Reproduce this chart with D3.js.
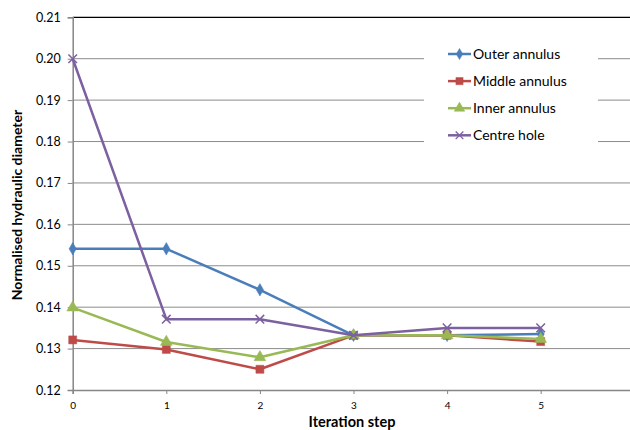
<!DOCTYPE html>
<html><head><meta charset="utf-8">
<script src="https://cdn.jsdelivr.net/npm/d3@7"></script>
<style>body{margin:0;background:#fff}svg{display:block}text{font-family:Lato,"Open Sans",sans-serif}</style>
</head><body><svg id="c" width="630" height="430"></svg>
<script>
const steps = [0,1,2,3,4,5];
const outerAnnulus = [0.1541,0.1541,0.1442,0.1332,0.1332,0.1335];
const middleAnnulus = [0.1321,0.1298,0.1250,0.1332,0.1332,0.1317];
const innerAnnulus = [0.1399,0.1316,0.1279,0.1332,0.1332,0.1323];
const centreHole = [0.2000,0.1371,0.1371,0.1332,0.1350,0.1350];
const yTicks = [0.12,0.13,0.14,0.15,0.16,0.17,0.18,0.19,0.20,0.21];
const seriesNames = ["Outer annulus","Middle annulus","Inner annulus","Centre hole"];
const seriesColors = ["#4A7EBB","#BE4B48","#98B954","#7D60A0"];
const seriesSymbols = ["diamond","square","triangle","cross"];
const seriesValues = [outerAnnulus, middleAnnulus, innerAnnulus, centreHole];

const svg = d3.select("#c");
const x = d3.scaleLinear().domain([0,6]).range([72.7, 634.3]);
const y = d3.scaleLinear().domain([0.12,0.21]).range([390, 17.3]);
const right = 630;

// gridlines
svg.append("g").selectAll("line").data(yTicks.slice(1)).join("line")
  .attr("x1", x(0)).attr("x2", right)
  .attr("y1", d=>y(d)).attr("y2", d=>y(d))
  .attr("stroke", d=> d===0.21 ? "#000" : "#8c8c8c").attr("stroke-width", d=> d===0.21 ? 1.2 : 1);

// y axis
const ya = svg.append("g").attr("transform",`translate(${x(0)},0)`)
  .call(d3.axisLeft(y).tickValues(yTicks).tickFormat(d3.format(".2f")).tickSize(5).tickPadding(7));
ya.select(".domain").attr("stroke","#868686").attr("stroke-width",1.5);
ya.selectAll(".tick line").attr("stroke","#868686");
ya.selectAll("text").attr("font-size","12.5px").attr("fill","#000").style("font-family","Lato, sans-serif");

// x axis
const xa = svg.append("g").attr("transform",`translate(0,${y(0.12)})`)
  .call(d3.axisBottom(x).tickValues(steps).tickFormat(d3.format("d")).tickSize(4).tickPadding(8));
xa.select(".domain").attr("stroke","#868686").attr("stroke-width",1.5);
xa.selectAll(".tick line").attr("stroke","#868686");
xa.selectAll("text").attr("font-size","10px").attr("fill","#000");

// axis titles
svg.append("text").attr("x", 352).attr("y", 427).attr("text-anchor","middle")
  .attr("font-size","14.5px").attr("font-weight","bold").text("Iteration step");
svg.append("text").attr("transform","translate(22,205) rotate(-90)").attr("text-anchor","middle")
  .attr("font-size","14px").attr("font-weight","bold").text("Normalised hydraulic diameter");

const symMap = {diamond:d3.symbolDiamond, square:d3.symbolSquare, triangle:d3.symbolTriangle, cross:d3.symbolX};
const symSize = {diamond:45, square:64, triangle:60, cross:50};
const line = d3.line().x((d,i)=>x(steps[i])).y(d=>y(d));

seriesValues.forEach((vals,k)=>{
  const g = svg.append("g");
  g.append("path").datum(vals).attr("d", line).attr("fill","none")
    .attr("stroke", seriesColors[k]).attr("stroke-width",2.5).attr("stroke-linejoin","round");
  const s = seriesSymbols[k];
  g.selectAll("path.m").data(vals).join("path").attr("class","m")
    .attr("transform",(d,i)=>`translate(${x(steps[i])},${y(d)})`)
    .attr("d", d3.symbol().type(symMap[s]).size(symSize[s]))
    .attr("fill", s==="cross" ? "none" : seriesColors[k])
    .attr("stroke", seriesColors[k]).attr("stroke-width", s==="cross"?1.5:0.5);
});

// legend
const lg = svg.append("g");
lg.append("rect").attr("x",424).attr("y",38).attr("width",174).attr("height",112).attr("fill","#fff");
seriesNames.forEach((n,k)=>{
  const yy = 54 + k*27.1;
  lg.append("line").attr("x1",448).attr("x2",471).attr("y1",yy).attr("y2",yy)
    .attr("stroke",seriesColors[k]).attr("stroke-width",2.5);
  const s = seriesSymbols[k];
  lg.append("path").attr("transform",`translate(459.5,${yy})`)
    .attr("d", d3.symbol().type(symMap[s]).size(symSize[s]*0.8))
    .attr("fill", s==="cross" ? "none" : seriesColors[k])
    .attr("stroke", seriesColors[k]).attr("stroke-width", s==="cross"?1.3:0.5);
  lg.append("text").attr("x",473).attr("y",yy+5).attr("font-size","14px").text(n);
});
</script></body></html>
